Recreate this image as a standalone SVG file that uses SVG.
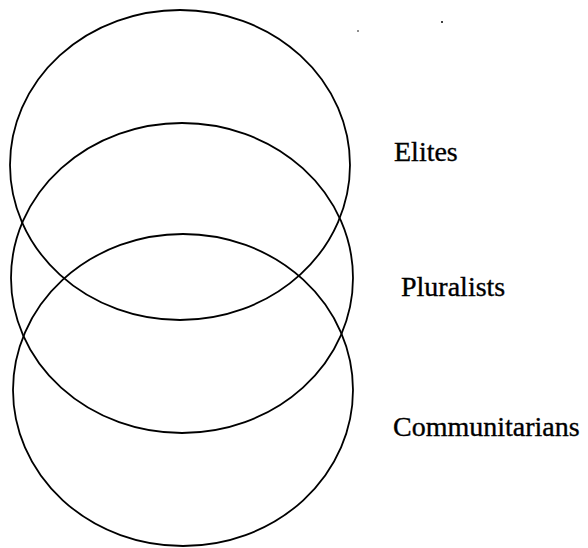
<svg xmlns="http://www.w3.org/2000/svg" width="588" height="548" viewBox="0 0 588 548">
<style>
.c{fill:none;stroke:#000;stroke-width:1.8}
.t{font-family:"Liberation Serif","Times New Roman",serif;font-size:28px;fill:#000;stroke:#000;stroke-width:0.35}
</style>
<rect width="588" height="548" fill="#fff"/>
<g id="elites">
<ellipse class="c" cx="180" cy="165" rx="170" ry="155"/>
<text class="t" x="394" y="161">Elites</text>
</g>
<g id="pluralists">
<ellipse class="c" cx="182" cy="278" rx="171" ry="155"/>
<text class="t" x="401" y="296">Pluralists</text>
</g>
<g id="communitarians">
<ellipse class="c" cx="183" cy="390" rx="170" ry="156"/>
<text class="t" x="393" y="436">Communitarians</text>
</g>
<g id="connectors"/>
<g id="specks" fill="#000">
<circle cx="358" cy="31" r="0.8"/>
<circle cx="442" cy="22" r="1"/>
</g>
</svg>
